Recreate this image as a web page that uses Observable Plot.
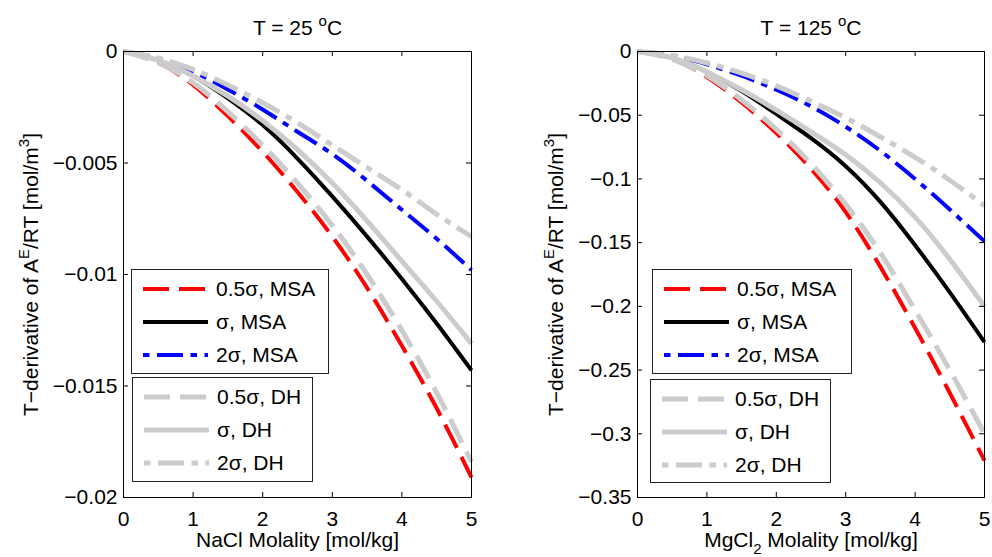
<!DOCTYPE html>
<html>
<head>
<meta charset="utf-8">
<script src="https://cdn.jsdelivr.net/npm/d3@7"></script>
<script src="https://cdn.jsdelivr.net/npm/@observablehq/plot@0.6"></script>
<style>
html, body { margin: 0; padding: 0; background: #fff; }
#wrap { display: flex; width: 992px; height: 557px; overflow: hidden; }
#wrap svg { flex: none; }
</style>
</head>
<body>
<div id="wrap"></div>
<script>
// ---------- data ----------
const molality = [0, 0.5, 1, 1.5, 2, 2.5, 3, 3.5, 4, 4.5, 5];

// NaCl, T = 25 °C
const nacl_msa_half = [0, -0.0005, -0.0015, -0.0029, -0.0045, -0.0063, -0.0083, -0.0106, -0.0132, -0.0160, -0.0191];
const nacl_msa_one  = [0, -0.0004, -0.0011, -0.0021, -0.0033, -0.0048, -0.0065, -0.0083, -0.0102, -0.0122, -0.0143];
const nacl_msa_two  = [0, -0.0003, -0.0009, -0.0017, -0.0026, -0.0036, -0.0046, -0.0058, -0.0071, -0.0084, -0.0098];
const nacl_dh_half  = [0, -0.0005, -0.0014, -0.0027, -0.0042, -0.0059, -0.0078, -0.0100, -0.0125, -0.0153, -0.0184];
const nacl_dh_one   = [0, -0.0004, -0.0011, -0.0020, -0.0031, -0.0044, -0.0059, -0.0076, -0.0094, -0.0112, -0.0131];
const nacl_dh_two   = [0, -0.0003, -0.0008, -0.0015, -0.0023, -0.0032, -0.0042, -0.0052, -0.0062, -0.0073, -0.0083];

// MgCl2, T = 125 °C
const mgcl2_msa_half = [0, -0.006, -0.020, -0.040, -0.064, -0.092, -0.126, -0.169, -0.217, -0.268, -0.321];
const mgcl2_msa_one  = [0, -0.005, -0.016, -0.031, -0.049, -0.068, -0.090, -0.118, -0.152, -0.189, -0.228];
const mgcl2_msa_two  = [0, -0.003, -0.010, -0.019, -0.030, -0.043, -0.059, -0.078, -0.100, -0.124, -0.149];
const mgcl2_dh_half  = [0, -0.006, -0.019, -0.038, -0.061, -0.088, -0.120, -0.158, -0.203, -0.250, -0.300];
const mgcl2_dh_one   = [0, -0.005, -0.016, -0.030, -0.046, -0.063, -0.081, -0.103, -0.130, -0.163, -0.200];
const mgcl2_dh_two   = [0, -0.003, -0.009, -0.017, -0.027, -0.039, -0.052, -0.067, -0.083, -0.101, -0.121];

const seriesLabels = ["0.5σ, MSA", "σ, MSA", "2σ, MSA", "0.5σ, DH", "σ, DH", "2σ, DH"];

const xTicks = [0, 1, 2, 3, 4, 5];
const yTicks25 = [0, -0.005, -0.01, -0.015, -0.02];
const yTicks125 = [0, -0.05, -0.1, -0.15, -0.2, -0.25, -0.3, -0.35];

const titles = ["T = 25 ^{o}C", "T = 125 ^{o}C"];
const xLabels = ["NaCl Molality [mol/kg]", "MgCl_{2} Molality [mol/kg]"];
const yLabel = "T−derivative of A^{E}/RT [mol/m^{3}]";

// ---------- styles ----------
const styles = [
  {color: "#ff0000", width: 4, dash: "26,10", legendOffset: 0},
  {color: "#000000", width: 4, dash: null, legendOffset: 0},
  {color: "#0000ff", width: 4, dash: "26,7.5,6.5,7.5", legendOffset: 33.5},
  {color: "#cccccc", width: 5, dash: "26,10", legendOffset: 0},
  {color: "#cccccc", width: 5, dash: null, legendOffset: 0},
  {color: "#cccccc", width: 5, dash: "26,7.5,6.5,7.5", legendOffset: 33.5}
];
const FONT = "'Liberation Sans', Arial, Helvetica, sans-serif";
const FS = 21;
const fmtY = d => d === 0 ? "0" : (d < 0 ? "−" : "") + Math.abs(d);

function richify(svg) {
  const ns = "http://www.w3.org/2000/svg";
  svg.querySelectorAll("text").forEach(t => {
    const s = t.textContent;
    if (!/[\^_]\{/.test(s)) return;
    t.textContent = "";
    const parts = s.split(/(\^\{[^}]*\}|_\{[^}]*\})/).filter(p => p);
    let shift = 0;
    for (const p of parts) {
      const ts = document.createElementNS(ns, "tspan");
      let target = 0, content = p, small = false;
      if (p.startsWith("^{")) { target = -0.42 * FS; content = p.slice(2, -1); small = true; }
      else if (p.startsWith("_{")) { target = 0.3 * FS; content = p.slice(2, -1); small = true; }
      const dy = target - shift;
      if (dy) ts.setAttribute("dy", dy);
      shift = target;
      if (small) ts.setAttribute("font-size", Math.round(FS * 0.7));
      ts.textContent = content;
      t.appendChild(ts);
    }
  });
}

function drawLegend(svg, box, idxs) {
  const g = d3.select(svg).append("g");
  const [x0, y0, x1, y1] = box;
  g.append("rect").attr("x", x0 + 0.5).attr("y", y0 + 0.5)
    .attr("width", x1 - x0).attr("height", y1 - y0)
    .attr("fill", "#fff").attr("stroke", "#222").attr("stroke-width", 1);
  idxs.forEach((s, k) => {
    const y = y0 + 20 + k * 33;
    const st = styles[s];
    g.append("line").attr("x1", x0 + 12).attr("x2", x0 + 77).attr("y1", y).attr("y2", y)
      .attr("stroke", st.color).attr("stroke-width", st.width)
      .attr("stroke-dasharray", st.dash).attr("stroke-dashoffset", st.legendOffset);
    g.append("text").attr("x", x0 + 85).attr("y", y).attr("dy", "0.34em")
      .attr("text-anchor", "start").attr("font-size", FS).attr("fill", "#000")
      .text(seriesLabels[s]);
  });
}

function panel({values, yTicks, yDomain, title, xLabel, marginLeft, marginRight, yLabelDx, legends}) {
  const W = 496, H = 557, mt = 51, mb = 60;
  const innerW = W - marginLeft - marginRight, innerH = H - mt - mb;
  const rows = [];
  values.forEach((arr, s) => arr.forEach((v, i) => rows.push({m: molality[i], v, s})));
  const lineMarks = styles.map((st, s) => Plot.line(rows.filter(r => r.s === s), {
    x: "m", y: "v", stroke: st.color, strokeWidth: st.width,
    strokeDasharray: st.dash || undefined, strokeLinecap: "butt", strokeLinejoin: "round",
    curve: "natural"
  }));
  const svg = Plot.plot({
    width: W, height: H,
    marginTop: mt, marginBottom: mb, marginLeft, marginRight,
    style: `font-family: ${FONT}; font-size: ${FS}px; background: #fff; color: #000; overflow: visible;`,
    x: {domain: [0, 5], axis: null},
    y: {domain: yDomain, axis: null},
    marks: [
      ...lineMarks,
      Plot.frame({stroke: "#000", strokeWidth: 1}),
      Plot.tickX(xTicks, {x: d => d, insetTop: innerH - 5, stroke: "#000"}),
      Plot.tickX(xTicks, {x: d => d, insetBottom: innerH - 5, stroke: "#000"}),
      Plot.tickY(yTicks, {y: d => d, insetRight: innerW - 5, stroke: "#000"}),
      Plot.tickY(yTicks, {y: d => d, insetLeft: innerW - 5, stroke: "#000"}),
      Plot.text(xTicks, {x: d => d, frameAnchor: "bottom", dy: 22, text: d => String(d), textAnchor: "middle", lineAnchor: "middle", fontSize: FS, fill: "#000"}),
      Plot.text(yTicks, {y: d => d, frameAnchor: "left", dx: -6, textAnchor: "end", text: fmtY, lineAnchor: "middle", fontSize: FS, fill: "#000"}),
      Plot.text([title], {frameAnchor: "top", dy: -23, text: d => d, textAnchor: "middle", lineAnchor: "middle", fontSize: FS, fill: "#000"}),
      Plot.text([xLabel], {frameAnchor: "bottom", dy: 43, text: d => d, textAnchor: "middle", lineAnchor: "middle", fontSize: FS, fill: "#000"}),
      Plot.text([yLabel], {frameAnchor: "left", dx: yLabelDx, rotate: -90, text: d => d, textAnchor: "middle", lineAnchor: "middle", fontSize: FS, fill: "#000"})
    ]
  });
  richify(svg);
  drawLegend(svg, legends[0], [0, 1, 2]);
  drawLegend(svg, legends[1], [3, 4, 5]);
  return svg;
}

const wrap = document.getElementById("wrap");
wrap.appendChild(panel({
  values: [nacl_msa_half, nacl_msa_one, nacl_msa_two, nacl_dh_half, nacl_dh_one, nacl_dh_two],
  yTicks: yTicks25, yDomain: [-0.02, 0],
  title: titles[0], xLabel: xLabels[0],
  marginLeft: 123, marginRight: 25, yLabelDx: -92,
  legends: [[131, 269, 328, 373], [132, 377, 312, 481]]
}));
wrap.appendChild(panel({
  values: [mgcl2_msa_half, mgcl2_msa_one, mgcl2_msa_two, mgcl2_dh_half, mgcl2_dh_one, mgcl2_dh_two],
  yTicks: yTicks125, yDomain: [-0.35, 0],
  title: titles[1], xLabel: xLabels[1],
  marginLeft: 141, marginRight: 8, yLabelDx: -81,
  legends: [[652 - 496, 269, 851 - 496, 373], [650 - 496, 379, 830 - 496, 482]]
}));
</script>
</body>
</html>
